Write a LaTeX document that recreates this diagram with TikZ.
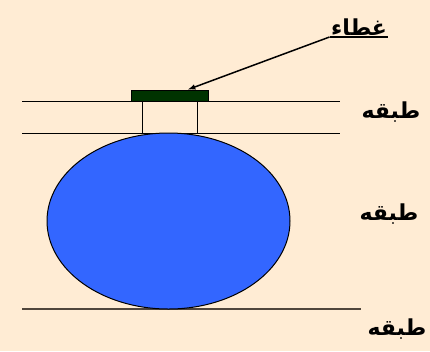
\documentclass[tikz,border=0pt]{standalone}
\usepackage{fontspec}
\usepackage{tikz}
\usetikzlibrary{shapes.geometric}
\TeXXeTstate=1
\newfontfamily\arabicfont[Script=Arabic]{DejaVu Sans}
\definecolor{bgcream}{RGB}{255, 236, 212}
\definecolor{lidgreen}{RGB}{0, 51, 0}
\definecolor{coreblue}{RGB}{51, 102, 255}
\definecolor{layergrey}{RGB}{80, 70, 60}

\begin{document}
\begin{tikzpicture}[x=1pt, y=-1pt, line width=1pt,
  label/.style={font=\arabicfont\bfseries\fontsize{22}{24}\selectfont, inner sep=1pt}]

% ============================================================
%  background (430 x 351)
% ============================================================
\fill[bgcream] (0, 0) rectangle (430, 351);
\useasboundingbox (0, 0) rectangle (430, 351);

% ---- layer lines ----
\draw (22, 101) -- (340, 101);
\draw (22, 133) -- (340, 133);
\draw[layergrey, line width=1.3pt] (22, 309) -- (361, 309);

% ---- plug through the top layer ----
\draw (142, 101) -- (142, 133);
\draw (197, 101) -- (197, 133);

% ---- body: ellipse from (47,133) to (290,309) ----
\node[ellipse, draw, fill=coreblue, minimum width=243pt, minimum height=176pt,
      inner sep=0pt] (core) at (168.5, 221) {};

% ---- lid on top ----
\node[draw, fill=lidgreen, minimum width=77pt, minimum height=11pt,
      inner sep=0pt] (lid) at (169.5, 95.5) {};

% ---- labels ----
\node[label, anchor=south] (lidlabel) at (359, 37) {\beginR غطاء\endR};
\draw[line width=2pt] (lidlabel.south west) -- (lidlabel.south east);
\node[label] (layerA) at (391, 112) {\beginR طبقه\endR};
\node[label] (layerB) at (389, 214) {\beginR طبقه\endR};
\node[label] (layerC) at (397, 329) {\beginR طبقه\endR};

% ---- pointer to the lid ----
\draw[-latex, line width=1.5pt] (lidlabel.south west) -- ([xshift=18.5pt]lid.north);

\end{tikzpicture}
\end{document}
